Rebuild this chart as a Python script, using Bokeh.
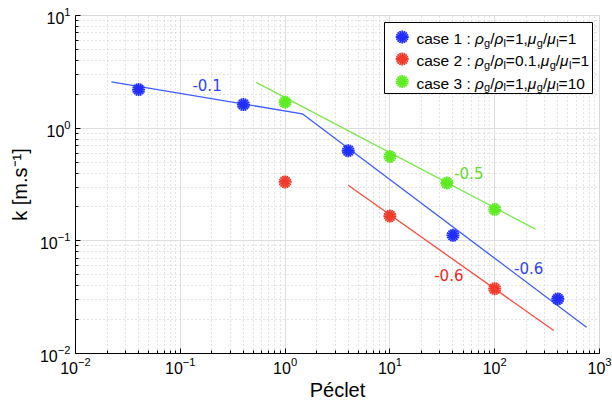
import numpy as np
from bokeh.plotting import figure
from bokeh.models import Label, FixedTicker
from bokeh.embed import file_html
from bokeh.resources import INLINE

# Transfer coefficient k versus Péclet number for three fluid pairs
case1_pe = [0.04, 0.4, 4, 40, 400]
case1_k = [2.2, 1.62, 0.63, 0.112, 0.0305]
case2_pe = [1, 10, 100]
case2_k = [0.333, 0.166, 0.0376]
case3_pe = [1, 10, 35, 100]
case3_k = [1.70, 0.56, 0.326, 0.19]

# power-law fit segments
fit1_pe = [0.022, 1.46, 752]
fit1_k = [2.57, 1.34, 0.0171]
fit2_pe = [4.0, 366]
fit2_k = [0.311, 0.016]
fit3_pe = [0.53, 245]
fit3_k = [2.55, 0.127]

# slope annotations
slope_text = ["-0.1", "-0.6", "-0.6", "-0.5"]
slope_pe = [0.18, 211, 36.5, 56.6]
slope_k = [2.43, 0.057, 0.0497, 0.40]

x_decades = [-2, -1, 0, 1, 2, 3]
y_decades = [-2, -1, 0, 1]

BLUE_LINE, BLUE_MK, BLUE_TX = "#3d5cff", "#1f2dff", "#2b44ff"
RED_LINE, RED_MK, RED_TX = "#ff4a3d", "#f03a2a", "#ee2a1e"
GREEN_LINE, GREEN_MK, GREEN_TX = "#7cea4a", "#5eeb22", "#5fdc2a"

W, H = 612, 403
LEFT, RIGHT, TOP, BOTTOM = 75, 13, 15, 50
FW, FH = W - LEFT - RIGHT, H - TOP - BOTTOM

p = figure(width=W, height=H, x_axis_type="log", y_axis_type="log",
           x_range=(10.0 ** x_decades[0], 10.0 ** x_decades[-1]),
           y_range=(10.0 ** y_decades[0], 10.0 ** y_decades[-1]),
           output_backend="svg", toolbar_location=None,
           min_border_left=LEFT, min_border_right=RIGHT,
           min_border_top=TOP, min_border_bottom=BOTTOM)
p.background_fill_color = "white"
p.border_fill_color = "white"
p.outline_line_color = "#d8d8d8"

def decade_ticks(decs):
    major = [10.0 ** d for d in decs]
    minor = [k * 10.0 ** d for d in decs[:-1] for k in range(2, 10)]
    return FixedTicker(ticks=major, minor_ticks=minor)

p.xaxis.ticker = decade_ticks(x_decades)
p.yaxis.ticker = decade_ticks(y_decades)

for ax in (p.xaxis, p.yaxis):
    ax.axis_line_color = "black"
    ax.major_tick_in = 5
    ax.major_tick_out = 0
    ax.minor_tick_in = 3
    ax.minor_tick_out = 0
    ax.major_tick_line_color = "black"
    ax.minor_tick_line_color = "black"
    ax.major_label_text_font = "Liberation Sans"
    ax.major_label_text_font_size = "16px"
    ax.major_label_text_color = "black"
    ax.axis_label_text_font = "Liberation Sans"
    ax.axis_label_text_font_size = "20px"
    ax.axis_label_text_font_style = "normal"
    ax.axis_label_text_color = "black"

p.xaxis.axis_label = "Péclet"
p.yaxis.axis_label = "k [m.s⁻¹]"
p.xaxis.major_label_standoff = 3
p.yaxis.major_label_standoff = 5
p.xaxis.axis_label_standoff = 2
p.yaxis.axis_label_standoff = 6

for g in (p.xgrid, p.ygrid):
    g.grid_line_color = "#dedede"
    g.grid_line_width = 1
    g.minor_grid_line_color = "#c8c8c8"
    g.minor_grid_line_dash = "1 3"
    g.minor_grid_line_width = 1

# fit lines
p.line(fit1_pe, fit1_k, line_color=BLUE_LINE, line_width=1.3)
p.line(fit2_pe, fit2_k, line_color=RED_LINE, line_width=1.3)
p.line(fit3_pe, fit3_k, line_color=GREEN_LINE, line_width=1.3)

def star(xs, ys, color):
    p.scatter(xs, ys, marker="circle", size=5, fill_color=color, line_color=color)
    for a in (0.0, np.pi / 8):
        p.scatter(xs, ys, marker="asterisk", size=13, angle=a,
                  line_width=1.8, line_color=color)

star(case1_pe, case1_k, BLUE_MK)
star(case2_pe, case2_k, RED_MK)
star(case3_pe, case3_k, GREEN_MK)

slope_colors = [BLUE_TX, BLUE_TX, RED_TX, GREEN_TX]
for t, x, y, c in zip(slope_text, slope_pe, slope_k, slope_colors):
    p.add_layout(Label(x=x, y=y, text=t, text_color=c, text_font="DejaVu Sans",
                       text_font_size="15px", text_align="center",
                       text_baseline="middle"))

# legend drawn in frame pixels, converted to data coordinates
def to_data(px, py):
    fx = (px - LEFT) / FW
    fy = (TOP + FH - py) / FH
    lx0, lx1 = x_decades[0], x_decades[-1]
    ly0, ly1 = y_decades[0], y_decades[-1]
    return 10 ** (lx0 + fx * (lx1 - lx0)), 10 ** (ly0 + fy * (ly1 - ly0))

bx0, by0 = to_data(384, 93)
bx1, by1 = to_data(592, 22)
p.quad(left=[bx0], right=[bx1], bottom=[by0], top=[by1],
       fill_color="white", line_color="black", line_width=1)

WID = {"c": 500, "a": 556, "s": 500, "e": 556, " ": 278, ":": 278, "/": 278,
       "=": 584, ",": 278, ".": 278, "g": 556, "l": 222, "ρ": 577, "μ": 577}
for ch in "0123456789":
    WID[ch] = 556

def text_width(s, size):
    return sum(WID.get(ch, 556) for ch in s) * size / 1000.0

legend_rows = [
    ("case 1 : ", "=1,", "=1", BLUE_MK),
    ("case 2 : ", "=0.1,", "=1", RED_MK),
    ("case 3 : ", "=1,", "=10", GREEN_MK),
]
row_y = [36.5, 58.5, 81.0]
MAIN, SUB = 15.5, 11
for (head, r1, r2, color), ry in zip(legend_rows, row_y):
    mx, my = to_data(401.7, ry)
    star([mx], [my], color)
    pieces = [(head, "n"), ("ρ", "i"), ("g", "s"), ("/", "n"), ("ρ", "i"), ("l", "s"),
              (r1, "n"), ("μ", "i"), ("g", "s"), ("/", "n"), ("μ", "i"), ("l", "s"),
              (r2, "n")]
    px = 416.0
    base = ry + 1.5
    for s, kind in pieces:
        size = SUB if kind == "s" else MAIN
        py = base + (4 if kind == "s" else 0)
        lx, ly = to_data(px, py)
        p.add_layout(Label(x=lx, y=ly, text=s, text_font="Liberation Sans",
                           text_font_size=f"{size}px",
                           text_font_style="italic" if kind == "i" else "normal",
                           text_color="black", text_align="left",
                           text_baseline="alphabetic"))
        px += text_width(s, size)

open("out.html", "w").write(file_html(p, INLINE))
